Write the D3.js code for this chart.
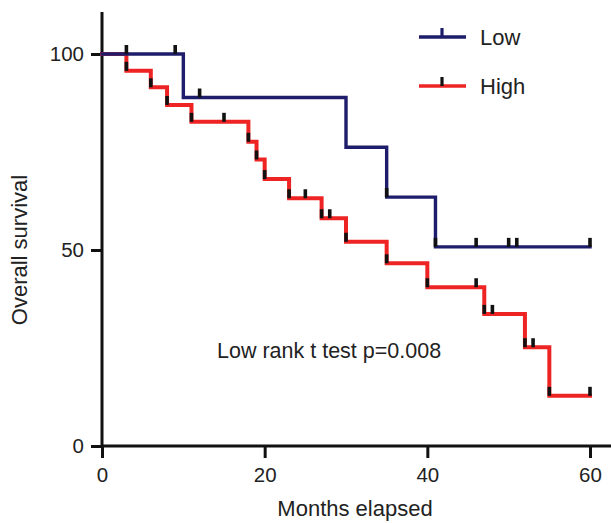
<!DOCTYPE html>
<html>
<head>
<meta charset="utf-8">
<script src="https://cdn.jsdelivr.net/npm/d3@7"></script>
<style>
  html, body { margin: 0; padding: 0; background: #fff; }
  svg { display: block; font-family: "Liberation Sans", Arial, sans-serif; }
</style>
</head>
<body>
<div id="chart"></div>
<script>
// Kaplan-Meier steps: [month, survival after the drop]
const lowSteps = [[0, 100], [10, 88.9], [30, 76.2], [35, 63.5], [41, 50.8]];
const lowCensor = [3, 9, 12, 35, 41, 46, 50, 51, 60];
const highSteps = [[0, 100], [3, 95.7], [6, 91.5], [8, 87.0], [11, 82.7], [18, 77.6], [19, 73.1],
  [20, 68.1], [23, 63.2], [27, 58.1], [30, 52.1], [35, 46.6], [40, 40.5], [47, 33.7], [52, 25.2], [55, 12.8]];
const highCensor = [3, 6, 8, 11, 15, 18, 19, 20, 23, 25, 27, 28, 30, 35, 40, 46, 47, 48, 52, 53, 55, 60];
const endMonth = 60;
const xTicks = [0, 20, 40, 60];
const yTicks = [0, 50, 100];

const width = 611, height = 523;
const navy = '#1d1d6b', red = '#ee2424';

const svg = d3.select('#chart').append('svg')
  .attr('width', width).attr('height', height);

// scales
const x = d3.scaleLinear().domain([0, 60]).range([102, 590]);
const y = d3.scaleLinear().domain([0, 100]).range([446, 54]);

// axes
const xAxis = d3.axisBottom(x).tickValues(xTicks).tickSize(12).tickSizeOuter(0).tickPadding(9);
const yAxis = d3.axisLeft(y).tickValues(yTicks).tickSize(11).tickSizeOuter(0).tickPadding(7);

const gx = svg.append('g').attr('transform', `translate(0,${y(0)})`).call(xAxis);
gx.select('.domain').attr('d', `M${x(0)},0H${width}`);
const gy = svg.append('g').attr('transform', `translate(${x(0)},0)`).call(yAxis);
gy.select('.domain').attr('d', `M0,${y(0)}V12`);

[gx, gy].forEach(g => {
  g.selectAll('path, line').attr('stroke', '#111').attr('stroke-width', 3);
  g.selectAll('text').attr('font-size', 20.5).attr('fill', '#222')
    .attr('font-family', '"Liberation Sans", Arial, sans-serif');
});

// axis titles
svg.append('text')
  .attr('x', (x(0) + x(60)) / 2 + 9).attr('y', 516)
  .attr('text-anchor', 'middle').attr('font-size', 22).attr('fill', '#222')
  .text('Months elapsed');
svg.append('text')
  .attr('transform', `translate(27,${y(50)}) rotate(-90)`)
  .attr('text-anchor', 'middle').attr('font-size', 22).attr('fill', '#222')
  .text('Overall survival');

// curves
const line = d3.line().x(d => x(d[0])).y(d => y(d[1])).curve(d3.curveStepAfter);
function survAt(steps, t) {
  let s = steps[0][1];
  steps.forEach(d => { if (d[0] <= t) s = d[1]; });
  return s;
}

function drawCurve(steps, censor, color, width) {
  const pts = steps.concat([[endMonth, steps[steps.length - 1][1]]]);
  svg.append('path').datum(pts)
    .attr('d', line)
    .attr('fill', 'none').attr('stroke', color).attr('stroke-width', width)
    .attr('stroke-linejoin', 'miter').attr('stroke-linecap', 'square');
  svg.append('g').selectAll('line').data(censor).enter().append('line')
    .attr('x1', d => x(d)).attr('x2', d => x(d))
    .attr('y1', d => y(survAt(steps, d)))
    .attr('y2', d => y(survAt(steps, d)) - 9)
    .attr('stroke', '#111').attr('stroke-width', 3.6);
}

drawCurve(highSteps, highCensor, red, 4);
drawCurve(lowSteps, lowCensor, navy, 3.4);

// legend
const legend = [
  { name: 'Low', color: navy, y: 37 },
  { name: 'High', color: red, y: 86 }
];
const lg = svg.append('g').selectAll('g').data(legend).enter().append('g');
lg.append('line')
  .attr('x1', 419).attr('x2', 466).attr('y1', d => d.y).attr('y2', d => d.y)
  .attr('stroke', d => d.color).attr('stroke-width', 3.6);
lg.append('line')
  .attr('x1', 442).attr('x2', 442).attr('y1', d => d.y).attr('y2', d => d.y - 9)
  .attr('stroke', d => d.name === 'Low' ? navy : '#111').attr('stroke-width', 3.2);
lg.append('text')
  .attr('x', 480).attr('y', d => d.y + 8)
  .attr('font-size', 22).attr('fill', '#222')
  .text(d => d.name);

// annotation
svg.append('text')
  .attr('x', 217).attr('y', 358)
  .attr('font-size', 21.5).attr('fill', '#222')
  .text('Low rank t test p=0.008');
</script>
</body>
</html>
